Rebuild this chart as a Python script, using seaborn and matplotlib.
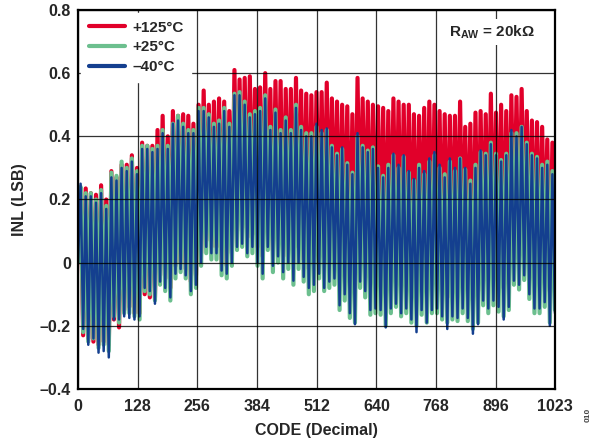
import numpy as np
import pandas as pd
import matplotlib
matplotlib.use('Agg')
import matplotlib.pyplot as plt
import seaborn as sns

start_vals = {'+125°C': 0.0, '+25°C': 0.0, '–40°C': 0.0}

red_peak = [0.23, 0.235, 0.22, 0.215, 0.245, 0.20, 0.29, 0.27, 0.31, 0.31, 0.34, 0.30, 0.38, 0.37, 0.37,
            0.42, 0.465, 0.40, 0.48, 0.465, 0.47, 0.465, 0.44, 0.50, 0.545, 0.50, 0.51, 0.52, 0.51, 0.48,
            0.61, 0.58, 0.585, 0.59, 0.55, 0.555, 0.60, 0.55, 0.575, 0.575, 0.55, 0.55, 0.585, 0.545, 0.535, 0.53,
            0.54, 0.54, 0.57, 0.52, 0.51, 0.50, 0.495, 0.47, 0.585, 0.52, 0.51, 0.50, 0.495, 0.49, 0.48,
            0.52, 0.51, 0.50, 0.50, 0.47, 0.465, 0.49, 0.51, 0.50, 0.48, 0.47, 0.465, 0.465, 0.51, 0.43, 0.44,
            0.475, 0.48, 0.47, 0.535, 0.475, 0.50, 0.48, 0.53, 0.525, 0.55, 0.48, 0.45, 0.445, 0.43, 0.39, 0.38]
red_trough = [-0.23, -0.24, -0.25, -0.26, -0.25, -0.26, -0.18, -0.205, -0.15, -0.14, -0.16, -0.16, -0.10, -0.11, -0.11,
              -0.04, -0.05, -0.08, -0.01, 0.0, -0.02, -0.06, -0.04, 0.03, 0.07, 0.05, 0.05, 0.0, -0.01, 0.03,
              0.10, 0.11, 0.08, 0.09, 0.05, 0.02, 0.10, 0.04, 0.07, 0.02, 0.05, 0.0, 0.05, 0.01, -0.02, -0.01,
              0.06, 0.02, 0.04, 0.04, -0.03, 0.0, -0.05, -0.08, 0.04, 0.02, -0.04, -0.03, -0.04, -0.09, -0.03,
              -0.03, -0.06, -0.04, -0.08, -0.12, -0.05, -0.09, -0.05, -0.04, -0.07, -0.11, -0.07, -0.07, -0.04, -0.07, -0.12,
              -0.09, -0.02, -0.04, -0.02, -0.04, -0.08, -0.04, 0.04, 0.03, 0.06, 0.0, -0.04, -0.04, -0.02, -0.09, -0.05]

green_peak = [0.24, 0.22, 0.22, 0.20, 0.23, 0.18, 0.285, 0.275, 0.32, 0.30, 0.33, 0.29, 0.37, 0.37, 0.36,
              0.37, 0.42, 0.37, 0.44, 0.465, 0.44, 0.42, 0.42, 0.49, 0.49, 0.47, 0.44, 0.45, 0.49, 0.44,
              0.535, 0.54, 0.51, 0.47, 0.48, 0.49, 0.53, 0.43, 0.485, 0.42, 0.46, 0.42, 0.50, 0.43, 0.41, 0.41,
              0.43, 0.41, 0.42, 0.37, 0.345, 0.36, 0.315, 0.285, 0.40, 0.37, 0.355, 0.365, 0.305, 0.275, 0.31,
              0.34, 0.30, 0.335, 0.285, 0.26, 0.31, 0.28, 0.32, 0.34, 0.30, 0.28, 0.32, 0.29, 0.33, 0.295, 0.26,
              0.31, 0.35, 0.345, 0.38, 0.345, 0.325, 0.345, 0.41, 0.41, 0.43, 0.38, 0.345, 0.335, 0.31, 0.32, 0.29]
green_trough = [-0.22, -0.25, -0.24, -0.27, -0.26, -0.28, -0.17, -0.19, -0.16, -0.16, -0.17, -0.18, -0.09, -0.10, -0.12,
                -0.07, -0.09, -0.12, -0.05, -0.03, -0.05, -0.10, -0.08, -0.01, 0.03, 0.01, 0.01, -0.04, -0.05, -0.01,
                0.04, 0.05, 0.02, 0.03, -0.01, -0.05, 0.04, -0.03, 0.0, -0.05, -0.02, -0.07, -0.02, -0.06, -0.10, -0.09,
                -0.05, -0.09, -0.08, -0.07, -0.15, -0.12, -0.175, -0.19, -0.08, -0.11, -0.165, -0.16, -0.165, -0.20, -0.16,
                -0.14, -0.17, -0.16, -0.19, -0.20, -0.165, -0.19, -0.16, -0.16, -0.18, -0.19, -0.18, -0.185, -0.16, -0.185, -0.21,
                -0.19, -0.135, -0.16, -0.135, -0.155, -0.17, -0.15, -0.07, -0.085, -0.055, -0.115, -0.16, -0.16, -0.14, -0.19, -0.15]

blue_peak = [0.25, 0.21, 0.21, 0.19, 0.22, 0.17, 0.27, 0.26, 0.30, 0.29, 0.32, 0.28, 0.36, 0.36, 0.35,
             0.36, 0.41, 0.36, 0.44, 0.45, 0.43, 0.41, 0.41, 0.48, 0.48, 0.46, 0.43, 0.44, 0.48, 0.43,
             0.53, 0.53, 0.50, 0.46, 0.47, 0.48, 0.52, 0.42, 0.475, 0.41, 0.45, 0.41, 0.49, 0.42, 0.40, 0.40,
             0.44, 0.42, 0.425, 0.365, 0.34, 0.365, 0.31, 0.28, 0.41, 0.365, 0.35, 0.36, 0.30, 0.27, 0.30,
             0.345, 0.31, 0.34, 0.29, 0.265, 0.30, 0.29, 0.33, 0.35, 0.31, 0.27, 0.33, 0.30, 0.33, 0.30, 0.25,
             0.30, 0.355, 0.34, 0.375, 0.34, 0.32, 0.34, 0.42, 0.40, 0.43, 0.375, 0.34, 0.33, 0.30, 0.31, 0.28]
blue_trough = [-0.21, -0.26, -0.24, -0.285, -0.28, -0.30, -0.18, -0.18, -0.17, -0.175, -0.18, -0.17, -0.08, -0.09, -0.13,
               -0.06, -0.08, -0.11, -0.035, -0.02, -0.04, -0.09, -0.07, 0.0, 0.05, 0.03, 0.03, -0.025, -0.035, 0.0,
               0.05, 0.06, 0.03, 0.05, 0.0, -0.035, 0.05, -0.01, 0.02, -0.03, 0.0, -0.057, 0.0, -0.045, -0.08, -0.07,
               -0.035, -0.08, -0.06, -0.05, -0.135, -0.10, -0.16, -0.195, -0.06, -0.09, -0.15, -0.145, -0.15, -0.205, -0.145,
               -0.13, -0.16, -0.145, -0.18, -0.22, -0.15, -0.19, -0.15, -0.145, -0.17, -0.21, -0.17, -0.175, -0.145, -0.175, -0.225,
               -0.195, -0.12, -0.145, -0.12, -0.14, -0.18, -0.14, -0.057, -0.07, -0.04, -0.10, -0.145, -0.145, -0.125, -0.20, -0.16]

x_ticks = [0, 128, 256, 384, 512, 640, 768, 896, 1023]
y_ticks = [0.8, 0.6, 0.4, 0.2, 0, -0.2, -0.4]
y_labels = ['0.8', '0.6', '0.4', '0.2', '0', '–0.2', '–0.4']

series = [('+125°C', red_peak, red_trough, '#E1002A', 3.0),
          ('+25°C', green_peak, green_trough, '#6CBF8E', 3.0),
          ('–40°C', blue_peak, blue_trough, '#143F8F', 1.8)]

sns.set_theme(style='white')
plt.rcParams['font.family'] = ['Liberation Sans', 'DejaVu Sans']
plt.rcParams['font.weight'] = 'bold'
plt.rcParams['mathtext.fontset'] = 'custom'
plt.rcParams['mathtext.rm'] = 'Liberation Sans:bold'
plt.rcParams['mathtext.it'] = 'Liberation Sans:bold'
plt.rcParams['mathtext.bf'] = 'Liberation Sans:bold'

fig = plt.figure(figsize=(5.97, 4.48), dpi=100)
ax = fig.add_axes([0.1307, 0.1317, 0.7989, 0.846])

for name, pk, tr, col, lw in series:
    vals = np.concatenate([[start_vals[name]], np.column_stack([pk, tr]).ravel()])
    codes = np.linspace(0, 1023, len(vals))
    df = pd.DataFrame({'code': codes, 'inl': vals})
    sns.lineplot(data=df, x='code', y='inl', color=col, lw=lw, ax=ax, sort=False,
                 label=name, legend=False)

ax.set_xlim(0, 1023)
ax.set_ylim(-0.4, 0.8)
ax.set_xticks(x_ticks)
ax.set_xticklabels([str(t) for t in x_ticks], fontsize=11.5, fontweight='bold')
ax.set_yticks(y_ticks)
ax.set_yticklabels(y_labels, fontsize=11.5, fontweight='bold')
ax.tick_params(axis='x', length=0, pad=7)
ax.tick_params(axis='y', length=0, pad=5)
ax.set_xlabel('CODE (Decimal)', fontsize=11.5, fontweight='bold', labelpad=7)
ax.set_ylabel('INL (LSB)', fontsize=11.5, fontweight='bold', labelpad=9)

ax.set_axisbelow(False)
ax.grid(True, color='black', lw=0.9, alpha=0.8)
for sp in ax.spines.values():
    sp.set_color('black')
    sp.set_linewidth(1.6)

handles = [plt.Line2D([], [], color=c, lw=3.0) for _, _, _, c, _ in series]
leg = ax.legend(handles, [s[0] for s in series], loc='upper left', bbox_to_anchor=(0.0, 1.0),
                borderaxespad=0.2, frameon=True, fancybox=False, framealpha=1,
                edgecolor='white', facecolor='white', fontsize=11, handlelength=2.4,
                handletextpad=0.45, labelspacing=0.38, borderpad=0.5)
leg.set_zorder(10)
for t in leg.get_texts():
    t.set_fontweight('bold')

ax.text(888, 0.73, r'$\mathrm{R_{AW}}$ = 20kΩ', ha='center', va='center', fontsize=11,
        fontweight='bold', zorder=10,
        bbox=dict(facecolor='white', edgecolor='none', pad=3))

fig.text(0.985, 0.075, '010', rotation=90, fontsize=6, color='#444444', ha='center', va='center')

fig.savefig('out.png', dpi=100)
